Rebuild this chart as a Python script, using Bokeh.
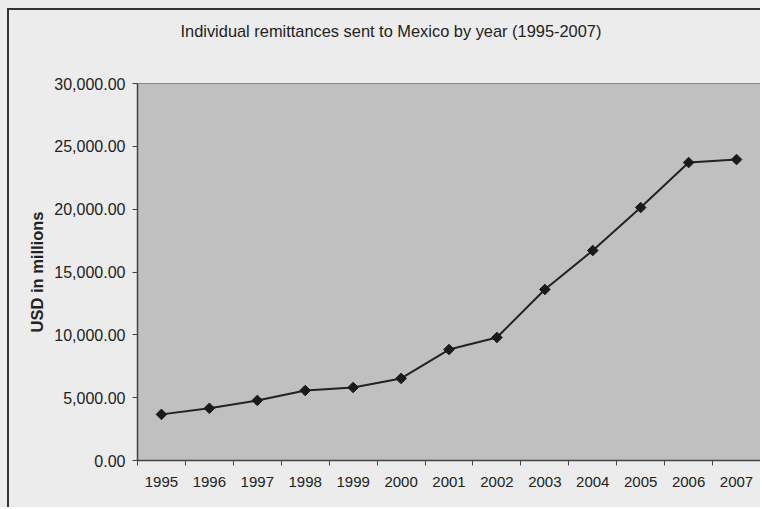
import math
from bokeh.plotting import figure
from bokeh.layouts import column
from bokeh.models import Range1d, FixedTicker, NumeralTickFormatter, ColumnDataSource, Title
from bokeh.embed import file_html
from bokeh.resources import INLINE

years = ["1995", "1996", "1997", "1998", "1999", "2000", "2001",
         "2002", "2003", "2004", "2005", "2006", "2007"]
remittances = [3670, 4150, 4780, 5570, 5810, 6530, 8830,
               9790, 13610, 16710, 20130, 23710, 23950]
y_ticks = [0, 5000, 10000, 15000, 20000, 25000, 30000]
title_text = "Individual remittances sent to Mexico by year (1995-2007)"
y_label = "USD in millions"

xpos = [i + 0.5 for i in range(len(years))]
src = ColumnDataSource(dict(x=xpos, y=remittances, year=years))

FONT = "Liberation Sans"

p = figure(width=753, height=499, output_backend="svg", toolbar_location=None,
           x_range=Range1d(0, len(years)), y_range=Range1d(0, 30000),
           title=title_text,
           min_border_left=128, min_border_right=2, min_border_top=73, min_border_bottom=49)
p.border_fill_color = "#ececec"
p.background_fill_color = "#c0c0c0"
p.outline_line_color = "#8a8a8a"
p.outline_line_width = 1
p.grid.visible = False
p.styles = {"border-left": "2px solid #333333", "border-top": "2px solid #333333"}

p.title.align = "left"
p.title.offset = 43
p.title.text_font = FONT
p.title.text_font_size = "16.4px"
p.title.text_font_style = "normal"
p.title.text_color = "#222222"
p.title.standoff = 0

# empty spacer between the title and the plot area
spacer = Title(text=" ", text_font_size="2px", standoff=40)
p.add_layout(spacer, "above")

# x axis: labels at category centers, ticks between categories
xt = FixedTicker(ticks=xpos, minor_ticks=list(range(len(years) + 1)))
p.xaxis.ticker = xt
p.xaxis.major_label_overrides = {x: y for x, y in zip(xpos, years)}
p.xaxis.major_tick_line_color = None
p.xaxis.minor_tick_line_color = "#444444"
p.xaxis.minor_tick_out = 5
p.xaxis.minor_tick_in = 0
p.xaxis.axis_line_color = "#444444"
p.xaxis.axis_line_width = 1.5
p.xaxis.major_label_text_font = FONT
p.xaxis.major_label_text_font_size = "15px"
p.xaxis.major_label_text_color = "#222222"
p.xaxis.major_label_standoff = 10

p.yaxis.ticker = FixedTicker(ticks=y_ticks)
p.yaxis.formatter = NumeralTickFormatter(format="0,0.00")
p.yaxis.major_tick_out = 5
p.yaxis.major_tick_in = 0
p.yaxis.minor_tick_line_color = None
p.yaxis.major_tick_line_color = "#444444"
p.yaxis.axis_line_color = "#444444"
p.yaxis.axis_line_width = 1.5
p.yaxis.major_label_text_font = FONT
p.yaxis.major_label_text_font_size = "16px"
p.yaxis.major_label_text_color = "#222222"
p.yaxis.major_label_standoff = 7
p.yaxis.axis_label = y_label
p.yaxis.axis_label_text_font = FONT
p.yaxis.axis_label_text_font_size = "16.5px"
p.yaxis.axis_label_text_font_style = "bold"
p.yaxis.axis_label_text_color = "#222222"
p.yaxis.axis_label_standoff = 5

p.line("x", "y", source=src, line_color="#222222", line_width=2)
p.scatter("x", "y", source=src, marker="square", angle=math.pi / 4, size=7.5,
          fill_color="#1a1a1a", line_color="#1a1a1a")

layout = column(p, styles={"padding": "8px 0px 0px 7px", "background-color": "#ececec"})

open("out.html", "w").write(file_html(layout, INLINE))
